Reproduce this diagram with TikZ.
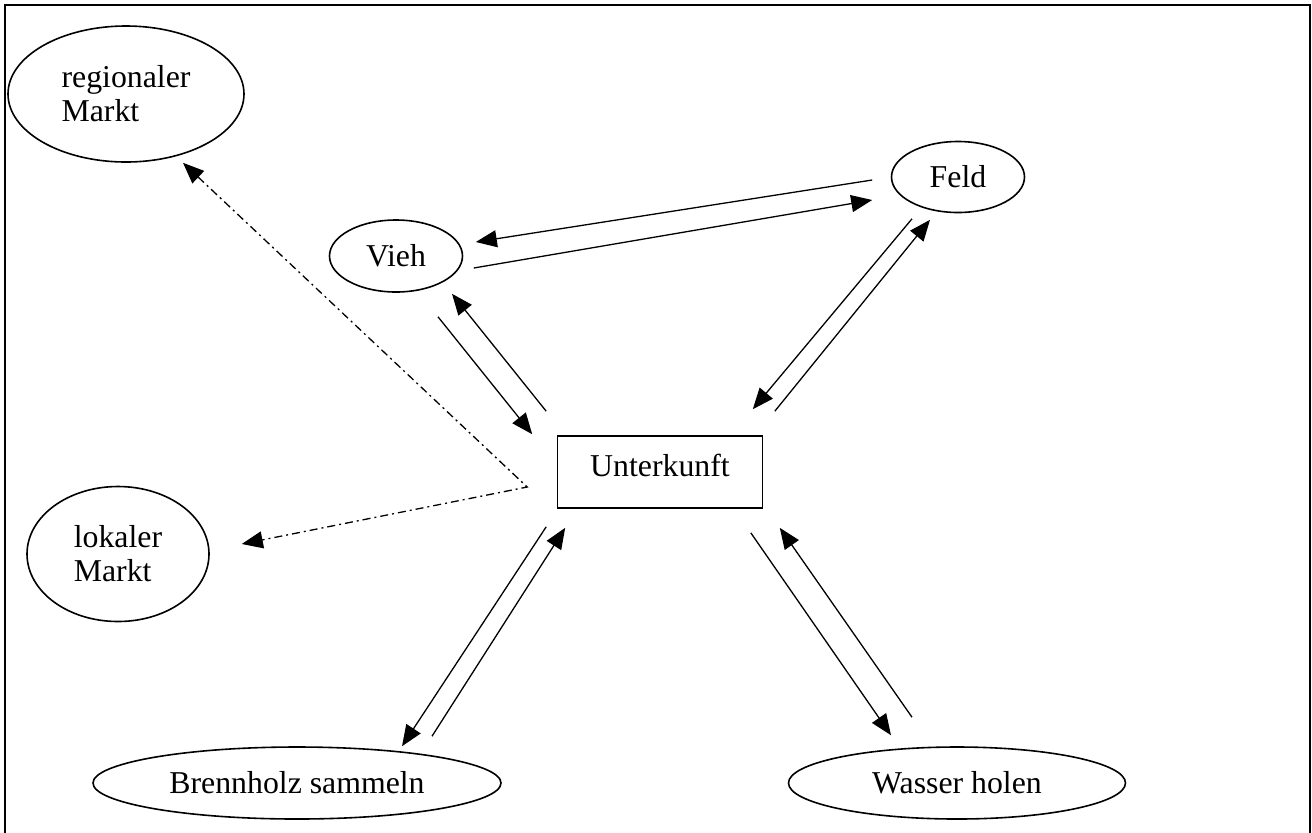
\documentclass[tikz,border=0pt]{standalone}
\usepackage{fontspec}
\setmainfont{Liberation Serif}
\usetikzlibrary {shapes.geometric}
\usetikzlibrary {arrows.meta}

\begin{document}
\begin{tikzpicture}[x=0.5pt, y=-0.5pt,
	font=\fontsize{15.9pt}{17pt}\selectfont,
	place/.style={draw, ellipse, line width=0.8pt, inner sep=0pt, align=left},
	house/.style={draw, rectangle, line width=0.8pt, inner sep=0pt},
	flow/.style={line width=0.65pt, -{Triangle[length=10.5pt, width=8.5pt]}},
	trade/.style={line width=0.65pt, {Triangle[length=10.5pt, width=8.5pt]}-{Triangle[length=10.5pt, width=8.5pt]}, dash pattern=on 4pt off 2pt on 1pt off 2pt}]
	\useasboundingbox (0,0) rectangle (1312,832);
	\draw[line width=1pt] (5,840) -- (5,5) -- (1310,5) -- (1310,840);
	\node[place, minimum width=118pt, minimum height=68pt] (regional) at (126,94) {regionaler\\Markt};
	\node[place, minimum width=66.5pt, minimum height=35.5pt] (feld) at (958,177) {Feld};
	\node[place, minimum width=66.5pt, minimum height=36pt] (vieh) at (396,256) {Vieh};
	\node[house, minimum width=102.5pt, minimum height=36pt] (shelter) at (660,472) {\raisebox{7pt}{Unterkunft}};
	\node[place, minimum width=91pt, minimum height=67.5pt] (local) at (118,554) {lokaler\\Markt};
	\node[place, minimum width=204pt, minimum height=36pt] (wood) at (297,783) {Brennholz sammeln};
	\node[place, minimum width=168.5pt, minimum height=36pt] (water) at (957,783) {Wasser holen};
	\draw[flow] ([shift={(-18.5,3)}]feld.west) -- ([shift={(12.5,-14)}]vieh.east);
	\draw[flow] ([shift={(10.5,12)}]vieh.east) -- ([shift={(-18.5,23)}]feld.west);
	\draw[flow] ([shift={(42,24)}]vieh.south) -- ([shift={(-24.5,-1)}]shelter.north west);
	\draw[flow] ([shift={(-10.5,-24)}]shelter.north west) -- ([shift={(56,1)}]vieh.south);
	\draw[flow] ([shift={(-46,5.5)}]feld.south) -- ([shift={(-10.5,-26)}]shelter.north east);
	\draw[flow] ([shift={(11.5,-24)}]shelter.north east) -- ([shift={(-28,6.5)}]feld.south);
	\draw[flow] ([shift={(-10.5,18)}]shelter.south west) -- ([shift={(105,0)}]wood.north);
	\draw[flow] ([shift={(135,-10)}]wood.north) -- ([shift={(8.5,19)}]shelter.south west);
	\draw[flow] ([shift={(-12.5,24)}]shelter.south east) -- ([shift={(-66,-11)}]water.north);
	\draw[flow] ([shift={(-45,-29)}]water.north) -- ([shift={(16.5,19)}]shelter.south east);
	\coordinate (split) at ([shift={(-29.5,15)}]shelter.west);
	\draw[trade] ([shift={(57,0)}]regional.south) -- (split) -- ([shift={(32,-10)}]local.east);
\end{tikzpicture}
\end{document}
